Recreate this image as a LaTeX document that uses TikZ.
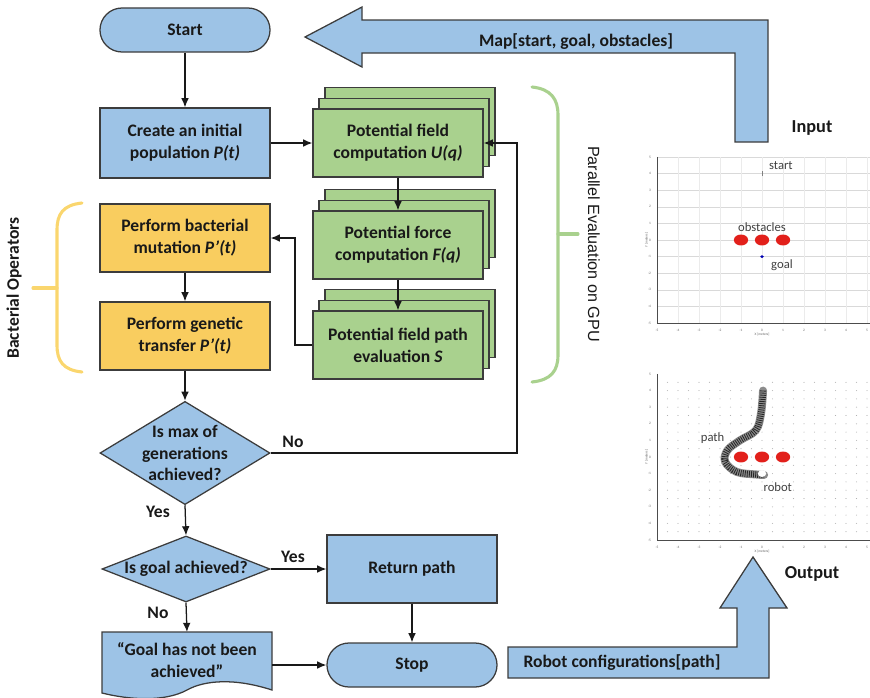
\documentclass[tikz,border=0pt]{standalone}
\usepackage{fontspec}
\setmainfont{Carlito}
\newfontfamily\arialfont{Liberation Sans}
\usetikzlibrary{arrows.meta,shapes.geometric,shadows}

\definecolor{bluefill}{RGB}{157,195,230}
\definecolor{greenfill}{RGB}{169,209,142}
\definecolor{yellowfill}{RGB}{249,205,95}
\definecolor{bracey}{RGB}{250,214,110}
\definecolor{edge}{RGB}{60,60,60}
\definecolor{ink}{RGB}{25,25,25}
\definecolor{obst}{RGB}{226,32,27}

\tikzset{
  box/.style={draw=edge, line width=0.9pt, text=ink, align=center,
    font=\fontsize{12.5}{15.5}\selectfont\bfseries},
  procbox/.style={box, rectangle, fill=bluefill, minimum width=4.25cm, minimum height=1.75cm},
  opbox/.style={box, rectangle, fill=yellowfill, minimum width=4.25cm, minimum height=1.7cm},
  gpubox/.style={box, rectangle, fill=greenfill, minimum width=4.25cm, minimum height=1.7cm,
    double copy shadow={shadow xshift=0.15cm, shadow yshift=0.27cm, fill=greenfill, draw=edge, line width=0.9pt}},
  termbox/.style={box, rectangle, rounded corners=0.55cm, fill=bluefill, minimum width=4.25cm, minimum height=1.1cm},
  decision/.style={draw=edge, line width=0.9pt, fill=bluefill, diamond, inner sep=0pt},
  txt/.style={text=ink, align=center, font=\fontsize{12.5}{15.5}\selectfont\bfseries},
  flow/.style={draw=ink, line width=0.9pt, -{Latex[length=6.5pt,width=5.5pt]}},
  bigarrow/.style={draw=edge, line width=0.9pt, fill=bluefill},
  brace/.style={line width=2.2pt, line cap=round},
  plottxt/.style={text=black!75, font=\fontsize{9}{9}\selectfont},
  ticktxt/.style={text=black!60, font=\fontsize{2.5}{2.5}\selectfont}
}

\begin{document}
\begin{tikzpicture}[x=0.025cm, y=-0.025cm]
\useasboundingbox (0,0) rectangle (870,698);

% input / output arrows
\draw[bigarrow] (305,37) -- (362,7) -- (362,20) -- (768,20) -- (768,142) -- (735,142)
  -- (735,53) -- (362,53) -- (362,67) -- cycle;
\node[txt] (maplbl) at (576,42) {Map[start, goal, obstacles]};
\draw[bigarrow] (508,647) -- (737,647) -- (737,608) -- (720,608) -- (753,557) -- (787,608)
  -- (769,608) -- (769,678) -- (508,678) -- cycle;
\node[txt] (cfglbl) at (622,663) {Robot configurations[path]};
\node[txt, font=\fontsize{13}{13}\selectfont\bfseries] (inlbl) at (812,128) {Input};
\node[txt, font=\fontsize{13}{13}\selectfont\bfseries] (outlbl) at (812,574) {Output};

% main flow
\node[termbox] (start) at (185,30) {Start};
\node[procbox] (init) at (185,143) {Create an initial\\population \textit{P(t)}};
\node[opbox] (mut) at (185,238) {Perform bacterial\\mutation \textit{P'(t)}};
\node[opbox] (trans) at (185,336) {Perform genetic\\transfer \textit{P'(t)}};
\node[gpubox] (pfc) at (398,143) {Potential field\\computation \textit{U(q)}};
\node[gpubox] (pff) at (398,245) {Potential force\\computation \textit{F(q)}};
\node[gpubox] (pfe) at (398,345) {Potential field path\\evaluation \textit{S}};

\node[decision, minimum width=4.25cm, minimum height=2.58cm] (maxgen) at (185,453) {};
\node[txt] (maxgentxt) at (maxgen) {Is max of\\generations\\achieved?};
\node[decision, minimum width=4.2cm, minimum height=1.65cm] (goal) at (186,569) {};
\node[txt] (goaltxt) at (goal) {Is goal achieved?};

\node[procbox, minimum height=1.7cm] (ret) at (412,569) {Return path};
\node[termbox] (stop) at (412,665) {Stop};

% document shape with wavy bottom
\draw[draw=edge, line width=0.9pt, fill=bluefill] (102,632) -- (272,632) -- (272,690)
  .. controls (235,678) and (205,680) .. (187,690)
  .. controls (165,702) and (130,700) .. (102,693) -- cycle;
\node[txt] (nogoal) at (187,660) {``Goal has not been\\achieved''};

\coordinate (loop) at (517,0);
\coordinate (back) at (295,0);
\coordinate (docR) at (272,0);

\draw[flow] (start) -- (init);
\draw[flow] (init) -- (pfc.west);
\draw[flow] (pfc.south) -- (pff.north);
\draw[flow] (pff.south) -- (pfe.north);
\draw[flow] (pfe.west) -- (pfe.west -| back) |- (mut.east);
\draw[flow] (mut) -- (trans);
\draw[flow] (trans) -- (maxgen.north);
\draw[flow] (maxgen.east) -- (maxgen.east -| loop) |- (pfc.east);
\draw[flow] (maxgen.south) -- (goal.north);
\draw[flow] (goal.east) -- (ret.west);
\draw[flow] (goal.south) -- (nogoal.north |- 0,632);
\draw[flow] (ret) -- (stop);
\draw[flow] (stop.west -| docR) -- (stop.west);

\node[txt] (no1) at (293,442) {No};
\node[txt] (yes1) at (158,512) {Yes};
\node[txt] (yes2) at (293,557) {Yes};
\node[txt] (no2) at (158,613) {No};

% braces
\draw[brace, bracey] (82,203) .. controls (63,205) and (57,214) .. (57,230) -- (57,345)
  .. controls (57,361) and (63,370) .. (82,372);
\draw[brace, bracey] (57,288) -- (33,288);
\node[txt, rotate=90, font=\fontsize{12.5}{12.5}\selectfont\bfseries] (bactlbl) at (14,288) {Bacterial Operators};
\draw[brace, greenfill] (532,87) .. controls (551,89) and (558,99) .. (558,115) -- (558,355)
  .. controls (558,371) and (551,380) .. (532,382);
\draw[brace, greenfill] (558,234) -- (578,234);
\node[txt, rotate=-90, font=\arialfont\fontsize{11.5}{11.5}\selectfont] (gpulbl) at (594,244) {Parallel Evaluation on GPU};

% input map
\begin{scope}[shift={(762,240)}, x=0.525cm, y=0.415cm]
  \foreach \k in {-4,...,5} \draw[black!15, line width=0.3pt] (-5,\k) -- (5.15,\k);
  \foreach \k in {-4,...,5} \draw[black!8, line width=0.3pt] (\k,-5) -- (\k,5);
  \draw[black!70, line width=0.6pt] (-5,5) -- (-5,-5) -- (5.15,-5);
  \foreach \k in {-5,...,5} {
    \node[ticktxt, anchor=east] at (-5.05,\k) {\k};
    \node[ticktxt, anchor=north] at (\k,-5.1) {\k};
  }
  \node[ticktxt, rotate=90] at (-5.5,0) {Y [meters]};
  \node[ticktxt] at (0,-5.7) {X [meters]};
  \draw[black!50, line width=0.4pt] (0,3.85) -- (0,4.15);
  \foreach \k in {-1,0,1} \fill[obst] (\k,0) ellipse (0.34 and 0.33);
  \fill[blue!70!black] (0,-1) circle (0.09);
  \node[plottxt] (startlbl) at (0.9,4.5) {start};
  \node[plottxt] (obslbl) at (0,0.75) {obstacles};
  \node[plottxt] (goallbl) at (0.95,-1.5) {goal};
\end{scope}

% output map
\begin{scope}[shift={(762,457)}, x=0.525cm, y=0.415cm]
  \foreach \i in {1,...,20} \foreach \j in {-9,...,9}
    \fill[black!30] (-5+\i*0.5,\j*0.5) circle (0.03);
  \draw[black!70, line width=0.6pt] (-5,5) -- (-5,-5) -- (5.15,-5);
  \foreach \k in {-5,...,5} {
    \node[ticktxt, anchor=east] at (-5.05,\k) {\k};
    \node[ticktxt, anchor=north] at (\k,-5.1) {\k};
  }
  \node[ticktxt, rotate=90] at (-5.5,0) {Y [meters]};
  \node[ticktxt] at (0,-5.7) {X [meters]};
  \draw[black!45, line width=0.2cm, line cap=round] plot[smooth, tension=0.6] coordinates
    {(0.05,4.0) (-0.05,2.6) (-0.3,1.6) (-1.05,1.0) (-1.65,0.4) (-1.75,-0.3) (-1.2,-0.9) (-0.3,-1.05) (0.1,-1.08)};
  \draw[black!85, line width=0.16cm, dash pattern=on 0.6pt off 0.9pt] plot[smooth, tension=0.6] coordinates
    {(0.05,4.0) (-0.05,2.6) (-0.3,1.6) (-1.05,1.0) (-1.65,0.4) (-1.75,-0.3) (-1.2,-0.9) (-0.3,-1.05) (0.1,-1.08)};
  \foreach \k in {-1,0,1} \fill[obst] (\k,0) ellipse (0.34 and 0.33);
  \fill[white] (0,-1.0) circle (0.2);
  \node[plottxt] (pathlbl) at (-2.35,1.15) {path};
  \node[plottxt] (robotlbl) at (0.75,-1.8) {robot};
\end{scope}
\end{tikzpicture}
\end{document}
